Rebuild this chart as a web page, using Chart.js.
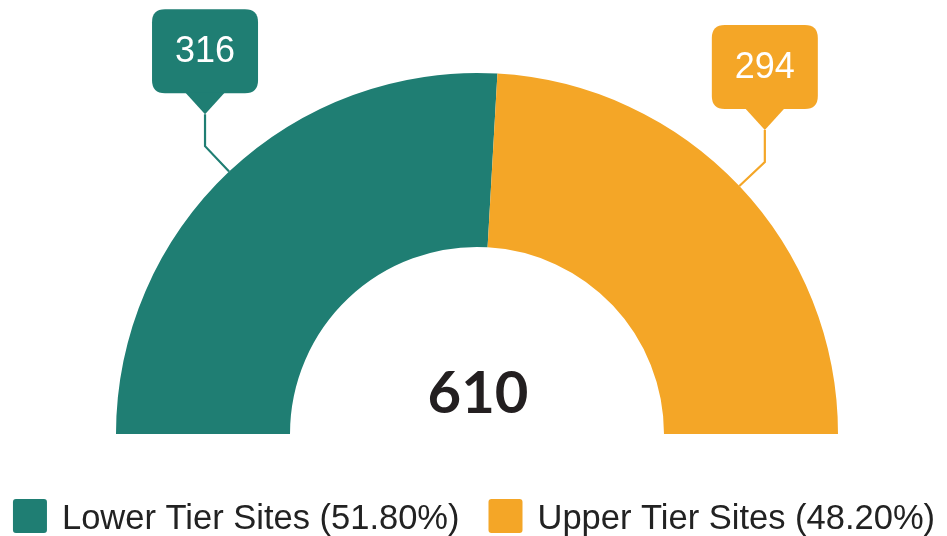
<!DOCTYPE html>
<html><head><meta charset="utf-8">
<script src="https://cdn.jsdelivr.net/npm/chart.js@4"></script>
<style>html,body{margin:0;padding:0;background:#fff;overflow:hidden}</style>
</head><body>
<canvas id="c" width="947" height="536"></canvas>
<script>
const categories = ['Lower Tier Sites', 'Upper Tier Sites'];
const siteCounts = [316, 294];
const seriesColors = ['#1F7E73', '#F4A627'];

const total = siteCounts.reduce((a, b) => a + b, 0);
const legendLabels = categories.map((c, i) => c + ' (' + (siteCounts[i] / total * 100).toFixed(2) + '%)');

function roundRect(ctx, x, y, w, h, r) {
  ctx.beginPath();
  ctx.moveTo(x + r, y);
  ctx.lineTo(x + w - r, y);
  ctx.quadraticCurveTo(x + w, y, x + w, y + r);
  ctx.lineTo(x + w, y + h - r);
  ctx.quadraticCurveTo(x + w, y + h, x + w - r, y + h);
  ctx.lineTo(x + r, y + h);
  ctx.quadraticCurveTo(x, y + h, x, y + h - r);
  ctx.lineTo(x, y + r);
  ctx.quadraticCurveTo(x, y, x + r, y);
  ctx.closePath();
}

const decorPlugin = {
  id: 'decor',
  afterDatasetsDraw(chart) {
    const ctx = chart.ctx;
    const meta = chart.getDatasetMeta(0);
    meta.data.forEach((arc, i) => {
      const p = arc.getProps(['x', 'y', 'startAngle', 'endAngle', 'outerRadius'], true);
      const mid = (p.startAngle + p.endAngle) / 2;
      const px = p.x + Math.cos(mid) * p.outerRadius;
      const py = p.y + Math.sin(mid) * p.outerRadius;
      const ex = px + Math.cos(mid) * 35;
      const ey = py + Math.sin(mid) * 35;
      const tipY = ey - 32;
      const bw = 106, bh = 84, ph = 21, pw = 20;
      const bBottom = tipY - ph;
      const bTop = bBottom - bh;
      const col = seriesColors[i];
      ctx.save();
      ctx.strokeStyle = col;
      ctx.lineWidth = 2.2;
      ctx.beginPath();
      ctx.moveTo(px, py);
      ctx.lineTo(ex, ey);
      ctx.lineTo(ex, tipY);
      ctx.stroke();
      ctx.fillStyle = col;
      roundRect(ctx, ex - bw / 2, bTop, bw, bh, 13);
      ctx.fill();
      ctx.beginPath();
      ctx.moveTo(ex - pw, bBottom - 1);
      ctx.lineTo(ex + pw, bBottom - 1);
      ctx.lineTo(ex, tipY);
      ctx.closePath();
      ctx.fill();
      ctx.fillStyle = '#ffffff';
      ctx.font = '36px "Liberation Sans", Arial, sans-serif';
      ctx.textAlign = 'center';
      ctx.textBaseline = 'middle';
      ctx.fillText(String(siteCounts[i]), ex, bTop + bh / 2 + 1);
      ctx.restore();
    });

    // center total
    const a0 = meta.data[0];
    ctx.save();
    ctx.fillStyle = '#231f20';
    ctx.font = 'bold 58px Lato, sans-serif';
    ctx.textAlign = 'center';
    ctx.textBaseline = 'alphabetic';
    ctx.fillText(String(total), a0.x + 1, 413);
    ctx.restore();

    // legend
    ctx.save();
    ctx.font = '34.5px "Liberation Sans", Arial, sans-serif';
    ctx.textBaseline = 'alphabetic';
    ctx.textAlign = 'left';
    const box = 34, gapBT = 15, gapItem = 29;
    const widths = legendLabels.map(t => ctx.measureText(t).width);
    let totalW = 0;
    widths.forEach((w, i) => { totalW += box + gapBT + w + (i < widths.length - 1 ? gapItem : 0); });
    let x = 474 - totalW / 2;
    legendLabels.forEach((t, i) => {
      ctx.fillStyle = seriesColors[i];
      roundRect(ctx, x, 499, box, box, 3);
      ctx.fill();
      ctx.fillStyle = '#222222';
      ctx.fillText(t, x + box + gapBT, 529);
      x += box + gapBT + widths[i] + gapItem;
    });
    ctx.restore();
  }
};

new Chart(document.getElementById('c'), {
  type: 'doughnut',
  data: {
    labels: categories,
    datasets: [{
      data: siteCounts,
      backgroundColor: seriesColors,
      borderWidth: 0,
      hoverOffset: 0,
      offset: 0
    }]
  },
  options: {
    responsive: false,
    animation: false,
    devicePixelRatio: 1,
    rotation: -90,
    circumference: 180,
    cutout: '51.8%',
    layout: { padding: { top: 73, bottom: 102, left: 20, right: 13 } },
    plugins: {
      legend: { display: false },
      tooltip: { enabled: false }
    }
  },
  plugins: [decorPlugin]
});
</script>
</body></html>
